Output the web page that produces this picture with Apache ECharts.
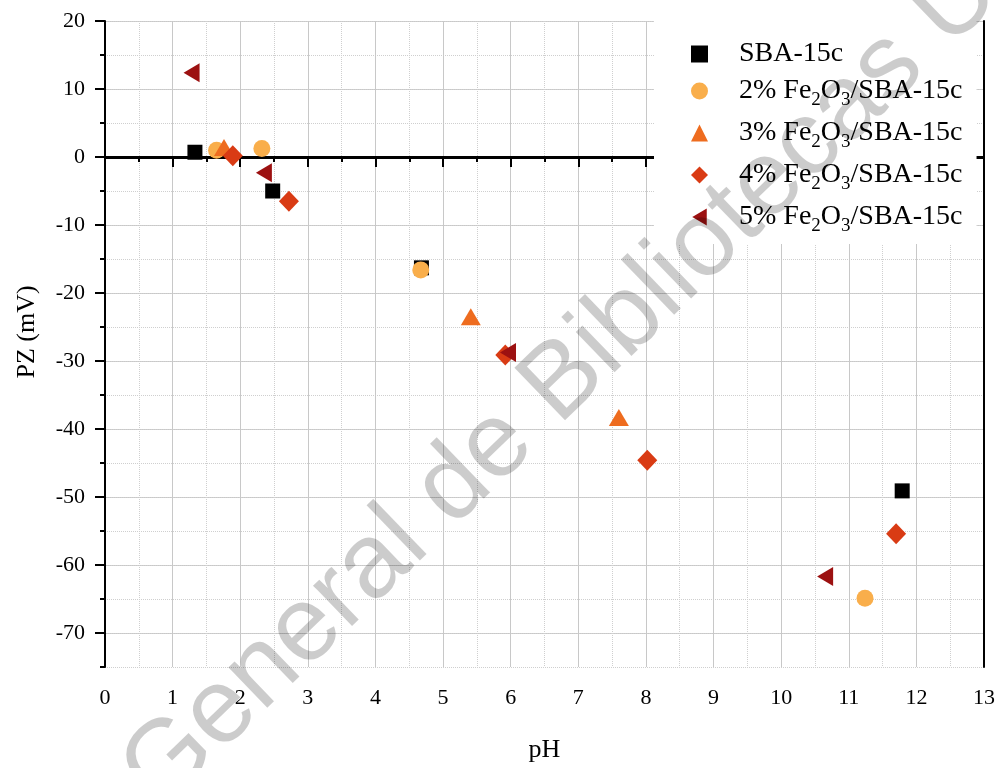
<!DOCTYPE html>
<html>
<head>
<meta charset="utf-8">
<script src="https://cdn.jsdelivr.net/npm/echarts@6/dist/echarts.min.js"></script>
<style>
html,body{margin:0;padding:0;background:#fff;}
#main{width:998px;height:768px;}
</style>
</head>
<body>
<div id="main"></div>
<script>
// ---- data ----
const seriesNames = ['SBA-15c', '2% Fe2O3/SBA-15c', '3% Fe2O3/SBA-15c', '4% Fe2O3/SBA-15c', '5% Fe2O3/SBA-15c'];
const sba_pH = [1.33, 2.48, 4.68, 11.79];
const sba_PZ = [0.7, -5.0, -16.3, -49.1];
const fe2_pH = [1.65, 2.32, 4.67, 11.24];
const fe2_PZ = [1.0, 1.25, -16.6, -64.9];
const fe3_pH = [1.76, 5.41, 7.60];
const fe3_PZ = [1.4, -23.5, -38.3];
const fe4_pH = [1.89, 2.72, 5.92, 8.02, 11.70];
const fe4_PZ = [0.2, -6.5, -29.1, -44.6, -55.4];
const fe5_pH = [1.28, 2.35, 5.96, 10.65];
const fe5_PZ = [12.4, -2.3, -28.75, -61.7];
const yMajorTicks = [-70, -60, -50, -40, -30, -20, -10, 0, 10, 20];
const xTickLabels = ['0','1','2','3','4','5','6','7','8','9','10','11','12','13'];

const pair = (xs, ys) => xs.map((x, i) => [x, ys[i]]);
const FONT = 'Liberation Serif';

const chart = echarts.init(document.getElementById('main'), null, {renderer: 'canvas'});

const legendFormatter = function (name) {
  const m = name.match(/^(.*)Fe2O3(.*)$/);
  if (!m) return '{t|' + name + '}';
  return '{t|' + m[1] + 'Fe}{s|2}{t|O}{s|3}{t|' + m[2] + '}';
};

const legendData = seriesNames.map((n, i) =>
  i === 4 ? {name: n, icon: 'path://M0,5L8.5,0L8.5,10Z'} : {name: n});

const option = {
  animation: false,
  backgroundColor: '#ffffff',
  grid: {left: 105, right: 13, top: 21, bottom: 101, containLabel: false},
  legend: {
    orient: 'vertical',
    left: 654, top: 21,
    padding: [19, 14, 8, 37],
    backgroundColor: '#ffffff',
    itemWidth: 17, itemHeight: 17, itemGap: 9,
    selectedMode: false,
    data: legendData,
    formatter: legendFormatter,
    textStyle: {
      fontFamily: FONT, color: '#000', padding: [0, 0, 0, 26],
      rich: {
        t: {fontFamily: FONT, fontSize: 28, lineHeight: 38, color: '#000'},
        s: {fontFamily: FONT, fontSize: 19, lineHeight: 19, verticalAlign: 'bottom', color: '#000'}
      }
    }
  },
  xAxis: [{
    type: 'value', min: 0, max: 13, interval: 1,
    name: 'pH', nameLocation: 'middle', nameGap: 70,
    nameTextStyle: {fontFamily: FONT, fontSize: 26, color: '#000'},
    axisLine: {lineStyle: {color: '#000', width: 2}},
    axisTick: {length: 10, lineStyle: {color: '#000', width: 2}},
    minorTick: {show: true, splitNumber: 2, length: 5, lineStyle: {color: '#000', width: 2}},
    axisLabel: {margin: 20, fontFamily: FONT, fontSize: 22, color: '#000',
      formatter: (v) => xTickLabels[Math.round(v)]},
    splitLine: {show: true, lineStyle: {color: '#c8c8c8', width: 1}},
    minorSplitLine: {show: true, lineStyle: {color: '#cfcfcf', width: 1, type: 'dotted'}}
  }, {
    type: 'value', min: 0, max: 13, position: 'top',
    axisLine: {show: true, lineStyle: {color: '#000', width: 2}},
    axisTick: {show: false}, axisLabel: {show: false}, splitLine: {show: false}
  }],
  yAxis: [{
    type: 'value', min: -75, max: 20, interval: 5,
    name: 'PZ (mV)', nameLocation: 'middle', nameGap: 65, nameRotate: 90,
    nameTextStyle: {fontFamily: FONT, fontSize: 26, color: '#000', padding: [0, 0, 0, 24]},
    axisLine: {show: true, lineStyle: {color: '#000', width: 2}},
    axisTick: {customValues: yMajorTicks, length: 10, lineStyle: {color: '#000', width: 2}},
    axisLabel: {customValues: yMajorTicks, margin: 20, fontFamily: FONT, fontSize: 22, color: '#000'},
    splitLine: {show: true, lineStyle: {color: '#c8c8c8', width: 1}}
  }, {
    type: 'value', min: -75, max: 20, interval: 5, position: 'left',
    axisLine: {show: false},
    axisTick: {show: true, length: 5, lineStyle: {color: '#000', width: 2}},
    axisLabel: {show: false},
    splitLine: {show: true, lineStyle: {color: '#cfcfcf', width: 1, type: 'dotted'}}
  }, {
    type: 'value', min: -75, max: 20, position: 'right',
    axisLine: {show: true, lineStyle: {color: '#000', width: 2}},
    axisTick: {show: false}, axisLabel: {show: false}, splitLine: {show: false}
  }],
  graphic: [{
    type: 'text',
    x: 140, y: 790,
    rotation: 44 * Math.PI / 180,
    z: 100,
    silent: true,
    style: {
      text: 'General de Bibliotecas U',
      font: '106px "Liberation Sans"',
      fill: 'rgba(0,0,0,0.2)',
      align: 'left', verticalAlign: 'middle'
    }
  }],
  series: [
    {name: seriesNames[0], type: 'scatter', data: pair(sba_pH, sba_PZ),
     symbol: 'rect', symbolSize: 15, itemStyle: {color: '#000000', opacity: 1},
     markLine: {silent: true, z: 1, symbol: 'none', label: {show: false},
       lineStyle: {color: '#000', width: 3, type: 'solid'}, data: [{yAxis: 0}]}},
    {name: seriesNames[1], type: 'scatter', data: pair(fe2_pH, fe2_PZ),
     symbol: 'circle', symbolSize: 17, itemStyle: {color: '#F9AE4B', opacity: 1}},
    {name: seriesNames[2], type: 'scatter', data: pair(fe3_pH, fe3_PZ),
     symbol: 'triangle', symbolSize: [20, 17], itemStyle: {color: '#EE6C1F', opacity: 1}},
    {name: seriesNames[3], type: 'scatter', data: pair(fe4_pH, fe4_PZ),
     symbol: 'diamond', symbolSize: [20, 21], itemStyle: {color: '#D93B14', opacity: 1}},
    {name: seriesNames[4], type: 'scatter', data: pair(fe5_pH, fe5_PZ),
     symbol: 'triangle', symbolRotate: 90, symbolSize: [19, 16], itemStyle: {color: '#9C1111', opacity: 1}}
  ]
};
chart.setOption(option);
</script>
</body>
</html>
